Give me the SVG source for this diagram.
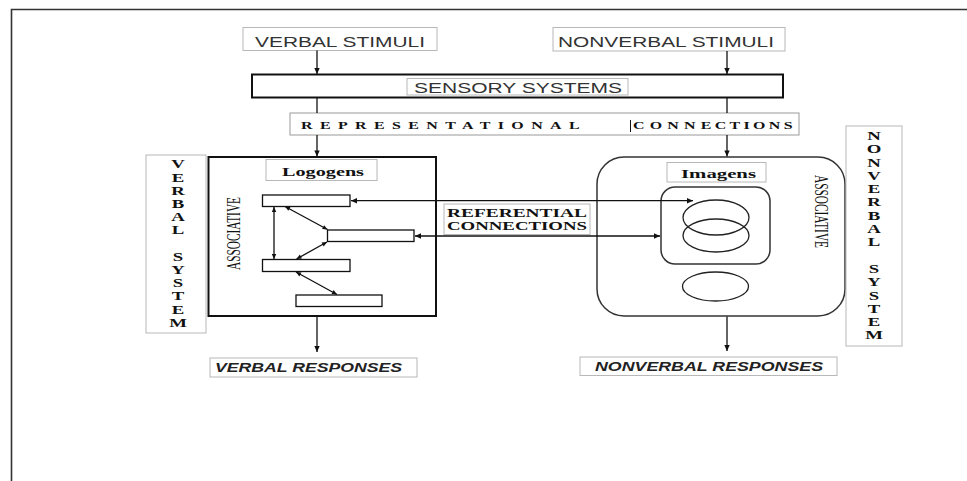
<svg xmlns="http://www.w3.org/2000/svg" width="967" height="481" viewBox="0 0 967 481">
<style>
.lbl{fill:#fff;stroke:#b8b8b8;stroke-width:1}
.thick{fill:#fff;stroke:#111;stroke-width:2}
.bar{fill:#fff;stroke:#111;stroke-width:1.3}
.rr{fill:none;stroke:#333;stroke-width:1.5}
.ell{fill:none;stroke:#222;stroke-width:1.3}
.ln{stroke:#111;stroke-width:1.3;fill:none}
.sans{font-family:"Liberation Sans",Arial,sans-serif;font-size:15px;fill:#333}
.resp{font-family:"Liberation Sans",Arial,sans-serif;font-size:12.5px;font-weight:bold;font-style:italic;fill:#222}
.serb{font-family:"Liberation Serif","Times New Roman",serif;font-weight:bold;fill:#111}
.ser{font-family:"Liberation Serif","Times New Roman",serif;fill:#111}
.col{font-family:"Liberation Serif","Times New Roman",serif;font-weight:bold;font-size:12.5px;fill:#111;text-anchor:middle}
</style>
<defs>
<marker id="ah" viewBox="0 0 10 10" refX="10" refY="5" markerWidth="7" markerHeight="6" markerUnits="userSpaceOnUse" orient="auto-start-reverse"><path d="M0,0.5 L10,5 L0,9.5 z" fill="#111"/></marker>
<marker id="as" viewBox="0 0 10 10" refX="10" refY="5" markerWidth="6" markerHeight="5" markerUnits="userSpaceOnUse" orient="auto-start-reverse"><path d="M0,0.5 L10,5 L0,9.5 z" fill="#111"/></marker>
</defs>
<rect width="967" height="481" fill="#fff"/>
<path d="M11.5,481 V9.5 H967" stroke="#333" stroke-width="1.6" fill="none"/>

<g id="verbal-stimuli">
<rect class="lbl" x="243" y="27.5" width="194" height="23"/>
<text class="sans" x="255" y="46.5" textLength="170" lengthAdjust="spacingAndGlyphs">VERBAL STIMULI</text>
</g>
<g id="nonverbal-stimuli">
<rect class="lbl" x="553" y="27.5" width="232" height="23.5"/>
<text class="sans" x="558" y="46.5" textLength="216" lengthAdjust="spacingAndGlyphs">NONVERBAL STIMULI</text>
</g>
<g id="sensory-systems">
<rect class="thick" x="252" y="74.5" width="531" height="23"/>
<rect class="lbl" x="407" y="78.5" width="221" height="16.5"/>
<text class="sans" x="414" y="93" textLength="208" lengthAdjust="spacingAndGlyphs">SENSORY SYSTEMS</text>
</g>
<g id="representational-connections">
<rect x="290" y="113" width="509" height="22" fill="#fff" stroke="#999" stroke-width="1"/>
<g transform="translate(301,128.5) scale(1.45,1)"><text class="serb" x="0" y="0" font-size="11" letter-spacing="5.1">REPRESENTATIONAL</text></g>
<line x1="630.5" y1="120" x2="630.5" y2="132" stroke="#111" stroke-width="1"/>
<g transform="translate(633,128.5) scale(1.45,1)"><text class="serb" x="0" y="0" font-size="11"><tspan letter-spacing="3.6">CONN</tspan><tspan letter-spacing="2.3">ECTIONS</tspan></text></g>
</g>

<g id="verbal-system">
<rect class="lbl" x="146" y="155" width="60" height="178"/>
<g transform="translate(178,0) scale(1.5,1)">
<text class="col" x="0" y="168.5">V</text>
<text class="col" x="0" y="181.7">E</text>
<text class="col" x="0" y="194.9">R</text>
<text class="col" x="0" y="208.1">B</text>
<text class="col" x="0" y="221.3">A</text>
<text class="col" x="0" y="234.5">L</text>
<text class="col" x="0" y="260.9">S</text>
<text class="col" x="0" y="274.1">Y</text>
<text class="col" x="0" y="287.3">S</text>
<text class="col" x="0" y="300.5">T</text>
<text class="col" x="0" y="313.7">E</text>
<text class="col" x="0" y="326.9">M</text>
</g>
</g>

<g id="logogens">
<rect class="thick" x="208.5" y="157" width="227.5" height="159"/>
<rect class="lbl" x="266" y="159.5" width="111" height="21"/>
<text class="serb" x="282" y="175.5" font-size="13.5" textLength="82" lengthAdjust="spacingAndGlyphs">Logogens</text>
<text class="ser" font-size="14" transform="translate(240,270) rotate(-90) scale(1,1.4)" textLength="73" lengthAdjust="spacingAndGlyphs">ASSOCIATIVE</text>
<rect class="bar" x="262.5" y="195" width="87.5" height="11.5"/>
<rect class="bar" x="327.5" y="230" width="86.5" height="11.5"/>
<rect class="bar" x="262.5" y="259.5" width="87.5" height="12"/>
<rect class="bar" x="296" y="295" width="86" height="11.5"/>
</g>

<g id="imagens">
<rect class="rr" x="597" y="157" width="248" height="159" rx="27" ry="27"/>
<rect class="lbl" x="667" y="162.5" width="99" height="19.5"/>
<text class="serb" x="681" y="177.5" font-size="13.5" textLength="75" lengthAdjust="spacingAndGlyphs">Imagens</text>
<text class="ser" font-size="14" transform="translate(815,175) rotate(90) scale(1,1.4)" textLength="73" lengthAdjust="spacingAndGlyphs">ASSOCIATIVE</text>
<rect class="rr" x="661" y="187" width="109" height="77" rx="14" ry="14"/>
<ellipse class="ell" cx="716" cy="217.5" rx="33" ry="17.5"/>
<ellipse class="ell" cx="716" cy="235.5" rx="33" ry="16.5"/>
<ellipse class="ell" cx="715.5" cy="286.5" rx="33" ry="14.5"/>
</g>

<g id="nonverbal-system">
<rect class="lbl" x="846" y="126" width="56" height="220"/>
<g transform="translate(874,0) scale(1.5,1)">
<text class="col" x="0" y="140">N</text>
<text class="col" x="0" y="153.3">O</text>
<text class="col" x="0" y="166.6">N</text>
<text class="col" x="0" y="179.9">V</text>
<text class="col" x="0" y="193.2">E</text>
<text class="col" x="0" y="206.5">R</text>
<text class="col" x="0" y="219.8">B</text>
<text class="col" x="0" y="233.1">A</text>
<text class="col" x="0" y="246.4">L</text>
<text class="col" x="0" y="273">S</text>
<text class="col" x="0" y="286.3">Y</text>
<text class="col" x="0" y="299.6">S</text>
<text class="col" x="0" y="312.9">T</text>
<text class="col" x="0" y="326.2">E</text>
<text class="col" x="0" y="339.5">M</text>
</g>
</g>

<g id="referential-connections">
<rect class="lbl" x="444" y="204" width="146" height="30.5"/>
<text class="serb" x="447" y="217" font-size="12.5" textLength="140" lengthAdjust="spacingAndGlyphs">REFERENTIAL</text>
<text class="serb" x="447" y="229.5" font-size="12.5" textLength="140" lengthAdjust="spacingAndGlyphs">CONNECTIONS</text>
</g>

<g id="verbal-responses">
<rect class="lbl" x="210" y="358" width="207" height="19"/>
<text class="resp" x="215" y="371.5" textLength="187" lengthAdjust="spacingAndGlyphs">VERBAL RESPONSES</text>
</g>
<g id="nonverbal-responses">
<rect class="lbl" x="580" y="357" width="257" height="18.5"/>
<text class="resp" x="595" y="370.5" textLength="228" lengthAdjust="spacingAndGlyphs">NONVERBAL RESPONSES</text>
</g>

<g id="connectors">
<line class="ln" x1="317" y1="50.5" x2="317" y2="74" marker-end="url(#ah)"/>
<line class="ln" x1="727" y1="51" x2="727" y2="74" marker-end="url(#ah)"/>
<line class="ln" x1="317" y1="98" x2="317" y2="113"/>
<line class="ln" x1="727" y1="98" x2="727" y2="113"/>
<line class="ln" x1="317" y1="135" x2="317" y2="156.5" marker-end="url(#ah)"/>
<line class="ln" x1="727" y1="135" x2="727" y2="156.5" marker-end="url(#ah)"/>
<line class="ln" x1="317" y1="317" x2="317" y2="352" marker-end="url(#ah)"/>
<line class="ln" x1="727" y1="316.5" x2="727" y2="351" marker-end="url(#ah)"/>
<line class="ln" x1="351" y1="200.7" x2="693" y2="200.7" marker-start="url(#ah)" marker-end="url(#ah)"/>
<line class="ln" x1="415" y1="236" x2="660" y2="236" marker-start="url(#ah)" marker-end="url(#ah)"/>
<line class="ln" x1="274" y1="207" x2="274" y2="259" marker-start="url(#as)" marker-end="url(#as)"/>
<line class="ln" x1="285" y1="206.5" x2="327.5" y2="229.5" marker-start="url(#as)" marker-end="url(#as)"/>
<line class="ln" x1="327" y1="242" x2="296.5" y2="259" marker-start="url(#as)" marker-end="url(#as)"/>
<line class="ln" x1="296" y1="272" x2="337" y2="294.5" marker-start="url(#as)" marker-end="url(#as)"/>
</g>
</svg>
